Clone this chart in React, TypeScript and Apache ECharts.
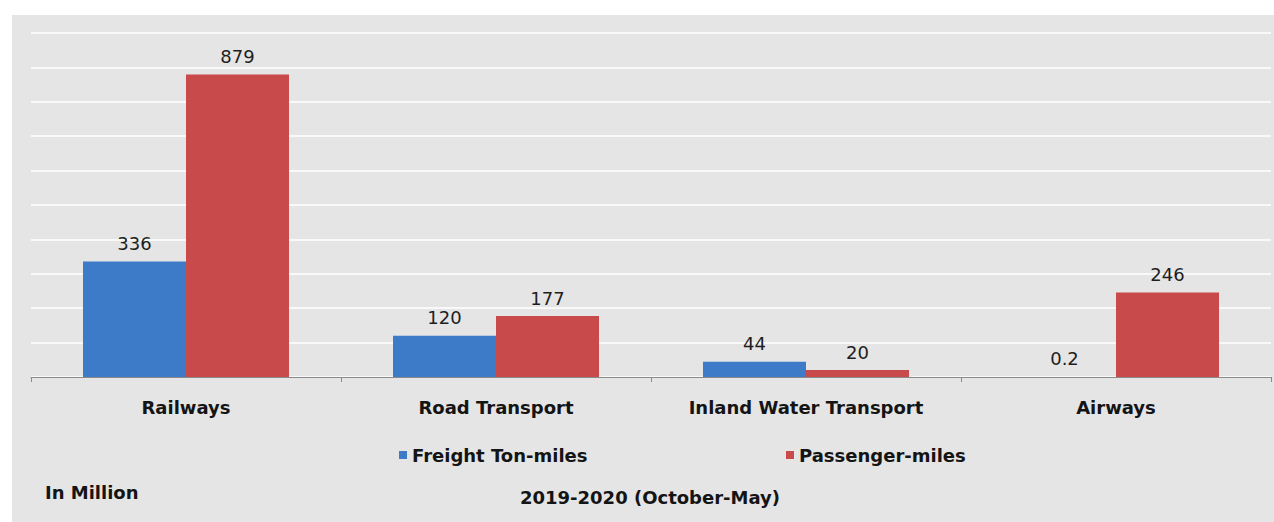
import React, { useEffect, useRef } from "react";
import * as echarts from "echarts";

const categories = ["Railways", "Road Transport", "Inland Water Transport", "Airways"];
const freightTonMiles = [336, 120, 44, 0.2];
const passengerMiles = [879, 177, 20, 246];
const seriesNames = ["Freight Ton-miles", "Passenger-miles"];
const unitNote = "In Million";
const periodNote = "2019-2020 (October-May)";

const FONT = "'DejaVu Sans', sans-serif";
const BLUE = "#3d7bc8";
const RED = "#c94a4b";

export default function App() {
  const ref = useRef<HTMLDivElement>(null);

  useEffect(() => {
    if (!ref.current) return;
    const chart = echarts.init(ref.current, undefined, { renderer: "svg" });
    const labelStyle = {
      show: true,
      position: "top" as const,
      distance: 9,
      fontSize: 18,
      fontFamily: FONT,
      color: "#1e1e1e",
    };
    const legendText = { fontSize: 18, fontWeight: "bold", fontFamily: FONT, color: "#141414" };
    chart.setOption({
      animation: false,
      grid: { left: 31, right: 3, top: 33, bottom: 145, containLabel: false },
      xAxis: {
        type: "category",
        data: categories,
        axisLine: { show: true, lineStyle: { color: "#8a8a8a", width: 1 } },
        axisTick: { show: true, length: 5, lineStyle: { color: "#8a8a8a" } },
        axisLabel: {
          margin: 21,
          fontSize: 18,
          fontWeight: "bold",
          fontFamily: FONT,
          color: "#141414",
        },
      },
      yAxis: {
        type: "value",
        min: 0,
        max: 1000,
        interval: 100,
        axisLabel: { show: false },
        axisLine: { show: false },
        axisTick: { show: false },
        splitLine: { show: true, lineStyle: { color: "#ffffff", width: 1.5 } },
      },
      legend: [
        {
          data: [seriesNames[0]],
          left: 394,
          top: 441,
          icon: "rect",
          itemWidth: 8,
          itemHeight: 8,
          textStyle: legendText,
        },
        {
          data: [seriesNames[1]],
          left: 781,
          top: 441,
          icon: "rect",
          itemWidth: 8,
          itemHeight: 8,
          textStyle: legendText,
        },
      ],
      graphic: [
        {
          type: "text",
          left: 45,
          top: 483,
          style: {
            text: unitNote,
            fontSize: 18,
            fontWeight: "bold",
            fontFamily: FONT,
            fill: "#141414",
          },
        },
        {
          type: "text",
          x: 650,
          y: 497,
          style: {
            text: periodNote,
            fontSize: 18,
            fontWeight: "bold",
            fontFamily: FONT,
            fill: "#141414",
            align: "center",
            verticalAlign: "middle",
          },
        },
      ],
      series: [
        {
          name: seriesNames[0],
          type: "bar",
          data: freightTonMiles,
          barWidth: 103,
          barGap: "0%",
          itemStyle: { color: BLUE },
          label: labelStyle,
        },
        {
          name: seriesNames[1],
          type: "bar",
          data: passengerMiles,
          barWidth: 103,
          barGap: "0%",
          itemStyle: { color: RED },
          label: labelStyle,
        },
      ],
    });
    return () => chart.dispose();
  }, []);

  return (
    <div style={{ position: "fixed", top: 0, left: 0, width: 1274, height: 522, background: "#ffffff" }}>
      <div style={{ position: "absolute", left: 12, top: 15, right: 0, bottom: 0, background: "#e5e5e5" }} />
      <div ref={ref} style={{ position: "absolute", left: 0, top: 0, width: 1274, height: 522 }} />
    </div>
  );
}
